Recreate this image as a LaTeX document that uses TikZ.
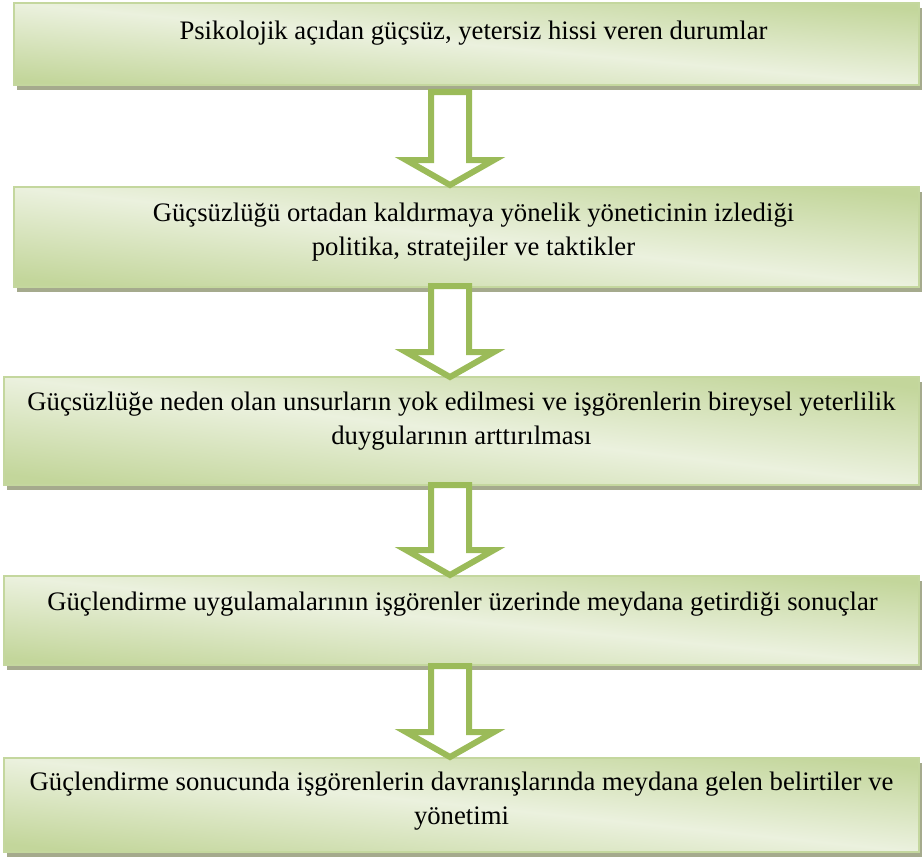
\documentclass[tikz,border=0pt]{standalone}
\usepackage{fontspec}
\setmainfont{Liberation Serif}
\usetikzlibrary{calc}
\definecolor{gLight}{HTML}{EBF1DE}
\definecolor{gDark}{HTML}{C3D69B}
\definecolor{gEdge}{HTML}{C4D79E}
\definecolor{shadowc}{HTML}{A5AA8D}
\definecolor{arrowc}{HTML}{9BBB59}
\pgfdeclareverticalshading{boxshade}{100bp}{color(0bp)=(gDark); color(25bp)=(gDark); color(50bp)=(gLight); color(75bp)=(gDark); color(100bp)=(gDark)}
\tikzset{
  boxshape/.style={rectangle, inner sep=0pt, outer sep=0pt, shading=boxshade, draw=gEdge, line width=1.5pt},
  boxshadow/.style={fill=shadowc},
  boxtext/.style={inner sep=0pt, align=center, font=\fontsize{26.7}{34}\selectfont},
  arrowline/.style={draw=arrowc, fill=white, line width=6pt, line join=miter, miter limit=4}
}
% #1 name, #2 left, #3 top, #4 right, #5 bottom, #6 text, #7 baseline offset of last line, #8 text xshift
\newcommand\flowbox[8]{%
  \pgfmathsetmacro\myshadeang{-atan((#5-#3)/(#4-#2))}%
  \fill[boxshadow] (#2+3,#3+5) rectangle (#4+3,#5+5);
  \node[boxshape, shading angle=\myshadeang, anchor=north west, minimum width=#4pt-#2pt, minimum height=#5pt-#3pt] (#1) at (#2,#3) {};
  \node[boxtext, anchor=base] (#1t) at ($(#1.north)+(#8,#7)$) {#6};
}
\newcommand\blockarrow[4]{%
  \coordinate (#1top) at (#2,#3);
  \coordinate (#1tip) at (#2,#4);
  \draw[arrowline] (#2-19,#3) -- (#2+19,#3) -- (#2+19,#4-25) -- (#2+44,#4-25) -- (#1tip) -- (#2-44,#4-25) -- (#2-19,#4-25) -- cycle;
}
\begin{document}
\begin{tikzpicture}[x=1pt,y=-1pt]
\useasboundingbox (0,0) rectangle (924,859);
\flowbox{b1}{14}{3}{919}{85}{Psikolojik açıdan güçsüz, yetersiz hissi veren durumlar}{37}{7}
\flowbox{b2}{14}{187}{919}{287}{Güçsüzlüğü ortadan kaldırmaya yönelik yöneticinin izlediği\\politika, stratejiler ve taktikler}{68}{7}
\flowbox{b3}{4}{377}{919}{485}{Güçsüzlüğe neden olan unsurların yok edilmesi ve işgörenlerin bireysel yeterlilik\\duygularının arttırılması}{67}{0}
\flowbox{b4}{4}{576}{919}{665}{Güçlendirme uygulamalarının işgörenler üzerinde meydana getirdiği sonuçlar}{34}{1}
\flowbox{b5}{4}{758}{919}{852}{Güçlendirme sonucunda işgörenlerin davranışlarında meydana gelen belirtiler ve\\yönetimi}{66}{0}
\blockarrow{a1}{450}{92}{185}
\blockarrow{a2}{450}{286}{377}
\blockarrow{a3}{450}{485}{575}
\blockarrow{a4}{450}{666}{757}
\end{tikzpicture}
\end{document}
